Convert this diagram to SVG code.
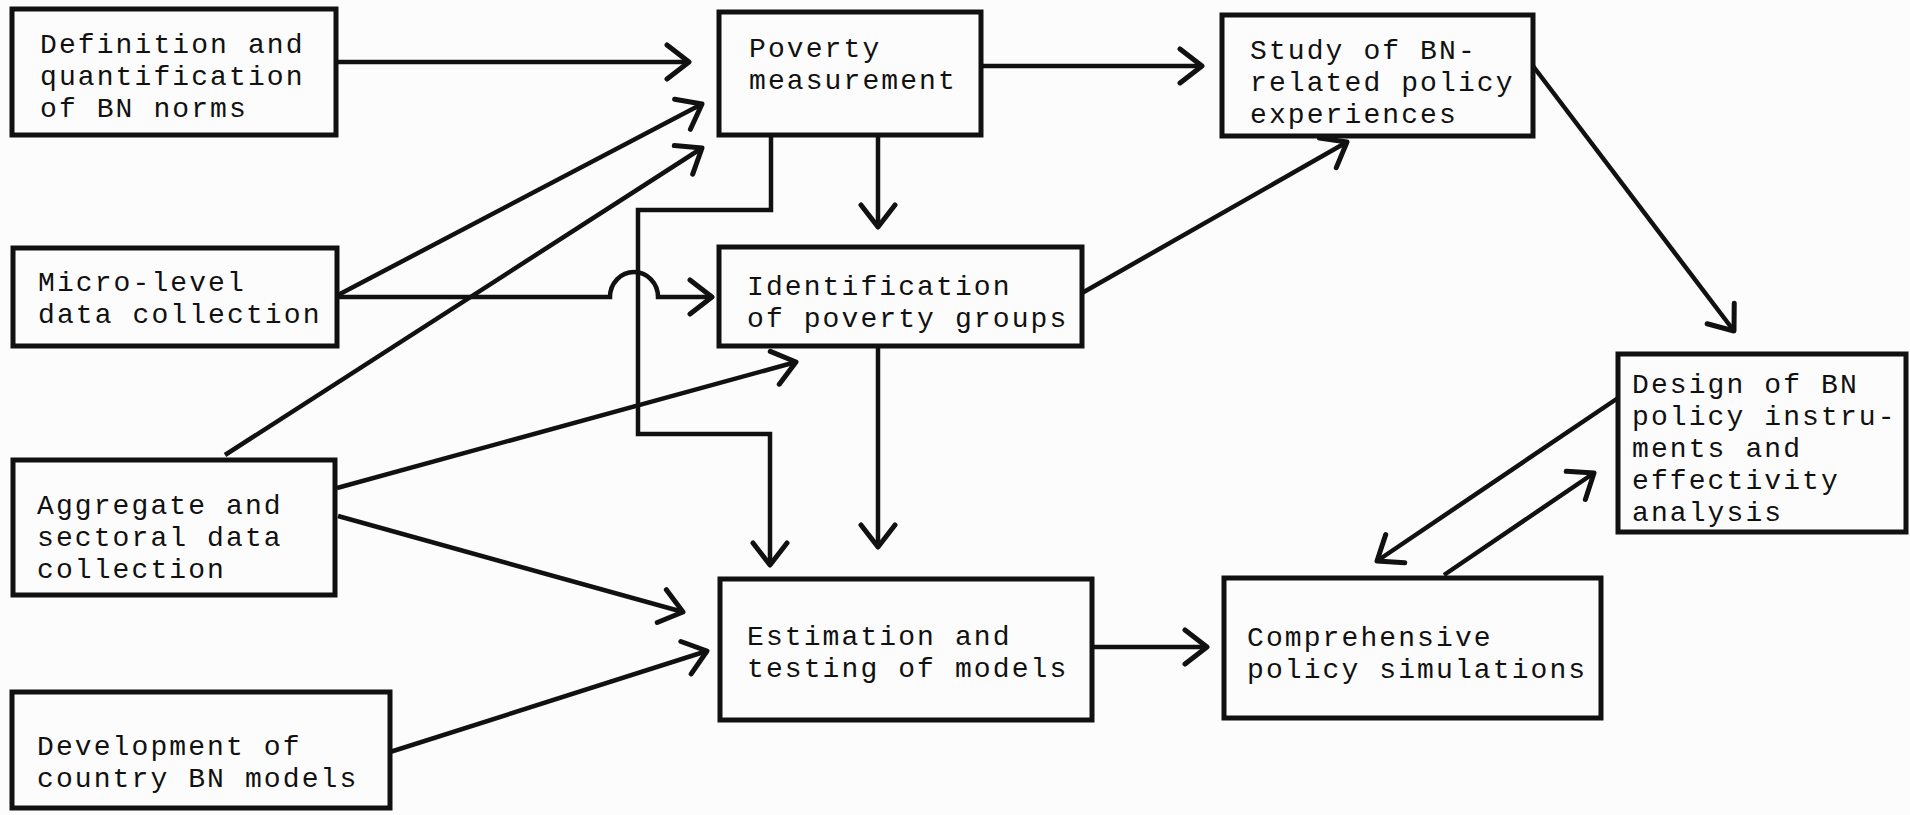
<svg xmlns="http://www.w3.org/2000/svg" width="1910" height="815" viewBox="0 0 1910 815">
<style>
.box{fill:none;stroke:#111;stroke-width:5}
.lbl{font-family:"Liberation Mono","Courier New",monospace;font-size:28px;letter-spacing:2.1px;fill:#111}
.con{fill:none;stroke:#111;stroke-width:4.5;marker-end:url(#arr)}
</style>
<defs>
<marker id="arr" viewBox="0 0 30 40" refX="27" refY="20" markerWidth="30" markerHeight="40" markerUnits="userSpaceOnUse" orient="auto">
<path d="M5 3 L27 20 L5 37" fill="none" stroke="#111" stroke-width="5" stroke-linecap="round" stroke-linejoin="round"/>
</marker>
</defs>
<rect width="1910" height="815" fill="#fcfcfc"/>
<g id="connectors">
<path class="con" d="M336 62 L689 62"/>
<path class="con" d="M338 295 L702 104"/>
<path class="con" d="M225 455 L702 148"/>
<path class="con" d="M337 297 H610 A24 25 0 0 1 658 297 H712"/>
<path class="con" d="M771 135 V210 H638 V434 H770 V565"/>
<path class="con" d="M878 135 V227"/>
<path class="con" d="M981 66 H1202"/>
<path class="con" d="M1082 293 L1347 142"/>
<path class="con" d="M1533 66 L1734 331"/>
<path class="con" d="M1618 398 L1377 561"/>
<path class="con" d="M1444 575 L1594 473"/>
<path class="con" d="M337 488 L796 362"/>
<path class="con" d="M338 516 L683 612"/>
<path class="con" d="M390 752 L707 651"/>
<path class="con" d="M878 346 V547"/>
<path class="con" d="M1092 647 H1207"/>
</g>
<g id="node-definition">
<rect class="box" x="12" y="9" width="324" height="126"/>
<text class="lbl" x="40" y="53">Definition and</text>
<text class="lbl" x="40" y="85">quantification</text>
<text class="lbl" x="40" y="117">of BN norms</text>
</g>
<g id="node-micro">
<rect class="box" x="13" y="248" width="324" height="98"/>
<text class="lbl" x="38" y="291">Micro-level</text>
<text class="lbl" x="38" y="323">data collection</text>
</g>
<g id="node-aggregate">
<rect class="box" x="13" y="460" width="322" height="135"/>
<text class="lbl" x="37" y="514">Aggregate and</text>
<text class="lbl" x="37" y="546">sectoral data</text>
<text class="lbl" x="37" y="578">collection</text>
</g>
<g id="node-development">
<rect class="box" x="12" y="692" width="378" height="116"/>
<text class="lbl" x="37" y="755">Development of</text>
<text class="lbl" x="37" y="787">country BN models</text>
</g>
<g id="node-poverty">
<rect class="box" x="719" y="12" width="262" height="123"/>
<text class="lbl" x="749" y="57">Poverty</text>
<text class="lbl" x="749" y="89">measurement</text>
</g>
<g id="node-identification">
<rect class="box" x="719" y="247" width="363" height="99"/>
<text class="lbl" x="747" y="295">Identification</text>
<text class="lbl" x="747" y="327">of poverty groups</text>
</g>
<g id="node-estimation">
<rect class="box" x="720" y="579" width="372" height="141"/>
<text class="lbl" x="747" y="645">Estimation and</text>
<text class="lbl" x="747" y="677">testing of models</text>
</g>
<g id="node-study">
<rect class="box" x="1222" y="15" width="311" height="121"/>
<text class="lbl" x="1250" y="59">Study of BN-</text>
<text class="lbl" x="1250" y="91">related policy</text>
<text class="lbl" x="1250" y="123">experiences</text>
</g>
<g id="node-design">
<rect class="box" x="1618" y="354" width="288" height="178"/>
<text class="lbl" x="1632" y="393">Design of BN</text>
<text class="lbl" x="1632" y="425">policy instru-</text>
<text class="lbl" x="1632" y="457">ments and</text>
<text class="lbl" x="1632" y="489">effectivity</text>
<text class="lbl" x="1632" y="521">analysis</text>
</g>
<g id="node-comprehensive">
<rect class="box" x="1224" y="578" width="377" height="140"/>
<text class="lbl" x="1247" y="646">Comprehensive</text>
<text class="lbl" x="1247" y="678">policy simulations</text>
</g>
</svg>
